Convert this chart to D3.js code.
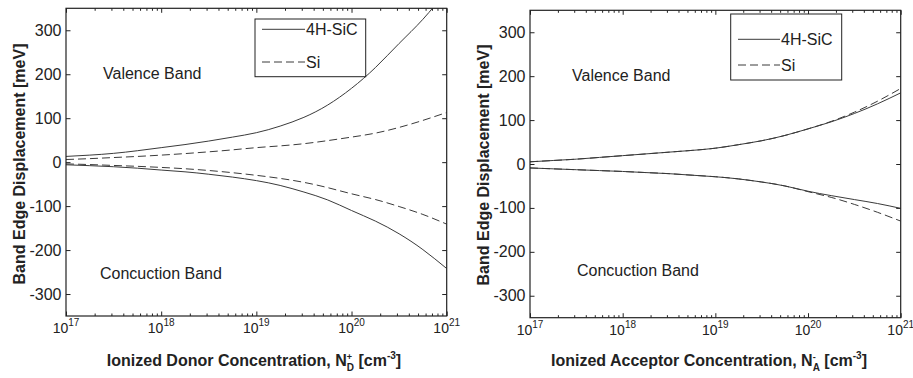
<!DOCTYPE html>
<html>
<head>
<meta charset="utf-8">
<script src="https://cdnjs.cloudflare.com/ajax/libs/d3/7.8.5/d3.min.js"></script>
<style>
  html, body { margin: 0; padding: 0; background: #fff; }
  svg { display: block; font-family: "Liberation Sans", Arial, sans-serif; }
  text { white-space: pre; }
</style>
</head>
<body>
<svg id="chart" width="913" height="378"></svg>
<script>
// Doping concentration, as powers of ten (cm^-3), sampled every quarter decade
const exponents = [17, 17.25, 17.5, 17.75, 18, 18.25, 18.5, 18.75, 19,
                   19.25, 19.5, 19.75, 20, 20.25, 20.5, 20.75, 21];

// n-type (donor) band edge displacement, meV
const donorSiCValence    = [13, 16, 20, 26, 33, 40, 48, 57, 67, 82, 102, 130, 168, 215, 270, 325, 390];
const donorSiValence     = [6, 8, 10.5, 13, 16, 19.5, 23.5, 28, 33, 37, 42, 49, 57, 66, 79, 95, 113];
const donorSiCConduction = [-6, -8, -10.4, -13.7, -18, -22, -27.5, -34, -42, -53, -68, -86, -110, -134, -163, -199, -242];
const donorSiConduction  = [-4, -5.5, -7.5, -9.5, -12, -15, -19, -24, -30, -37, -46, -58, -72, -85, -101, -119, -141];

// p-type (acceptor) band edge displacement, meV
const accSiCValence    = [5, 8, 11, 15, 19, 23, 27, 31, 36, 44, 53, 65, 80, 96, 115, 137, 162];
const accSiValence     = [5, 8, 11, 15, 19, 23, 27, 31, 36, 44, 53, 65, 80, 97, 118, 143, 172];
const accSiCConduction = [-9, -11, -13, -15, -17, -19.5, -22, -25.5, -29, -34, -41, -50, -62, -72, -81, -90, -101];
const accSiConduction  = [-9, -11, -13, -15, -17, -19.5, -22, -25.5, -29, -34, -41, -50, -63, -76, -92, -110, -130];

const yTicks = [-300, -200, -100, 0, 100, 200, 300];
const xMajorExp = [17, 18, 19, 20, 21];
const legendNames = ["4H-SiC", "Si"];

const svg = d3.select("#chart");
const INK = "#222";
const CURVE = "#3a3a3a";

// Lay out a run of text pieces (normal / subscript / superscript / stacked)
function richText(parent, x, y, parts, opts) {
  const t = parent.append("text").attr("y", y)
    .attr("font-size", opts.size).attr("font-weight", opts.weight || "normal")
    .attr("fill", INK);
  const measure = (str, size) => {
    const m = parent.append("text").attr("font-size", size)
      .attr("font-weight", opts.weight || "normal").text(str);
    const w = m.node().getComputedTextLength();
    m.remove();
    return w;
  };
  const placed = [];
  let cx = 0;
  parts.forEach(p => {
    const size = p.size || opts.size;
    const w = measure(p.t, size);
    if (p.stack) {
      const prev = placed[placed.length - 1];
      placed.push({ p, size, x: prev.x, w: 0 });
      prev.w = Math.max(prev.w, w);
    } else {
      placed.push({ p, size, x: cx, w });
    }
    cx = placed.reduce((a, q) => a + q.w, 0);
  });
  const x0 = opts.anchor === "middle" ? x - cx / 2 : x;
  placed.forEach(q => {
    t.append("tspan").attr("x", x0 + q.x).attr("y", y + (q.p.dy || 0))
      .attr("font-size", q.size).text(q.p.t);
  });
  return t;
}

function panel(cfg) {
  const x = d3.scaleLog().domain([1e17, 1e21]).range([cfg.left, cfg.right]);
  const y = d3.scaleLinear().domain([-350, 350]).range([cfg.bottom, cfg.top]);
  const g = svg.append("g");
  const clipId = "clip" + cfg.id;
  svg.append("clipPath").attr("id", clipId).append("rect")
    .attr("x", cfg.left).attr("y", cfg.top)
    .attr("width", cfg.right - cfg.left).attr("height", cfg.bottom - cfg.top);

  const allX = x.ticks();
  const minorX = allX.filter(v => !xMajorExp.some(e => Math.abs(Math.log10(v) - e) < 1e-9));
  const majorX = xMajorExp.map(e => Math.pow(10, e));

  // inward ticks on all four sides
  const axisLayer = g.append("g");
  const addAxis = (gen, tx, ty) => {
    const a = axisLayer.append("g").attr("transform", `translate(${tx},${ty})`).call(gen);
    a.select(".domain").remove();
    a.selectAll("text").remove();
    a.selectAll("line").attr("stroke", INK);
    return a;
  };
  addAxis(d3.axisBottom(x).tickValues(minorX).tickSizeInner(-2.5).tickSizeOuter(0), 0, cfg.bottom);
  addAxis(d3.axisBottom(x).tickValues(majorX).tickSizeInner(-4.5).tickSizeOuter(0), 0, cfg.bottom);
  addAxis(d3.axisTop(x).tickValues(minorX).tickSizeInner(-2.5).tickSizeOuter(0), 0, cfg.top);
  addAxis(d3.axisTop(x).tickValues(majorX).tickSizeInner(-4.5).tickSizeOuter(0), 0, cfg.top);
  addAxis(d3.axisLeft(y).tickValues(yTicks).tickSizeInner(-4.5).tickSizeOuter(0), cfg.left, 0);
  addAxis(d3.axisRight(y).tickValues(yTicks).tickSizeInner(-4.5).tickSizeOuter(0), cfg.right, 0);

  // y tick labels
  yTicks.forEach(v => {
    g.append("text").attr("x", cfg.left - 4.5).attr("y", y(v) + 5.5)
      .attr("text-anchor", "end").attr("font-size", 16).attr("fill", INK)
      .text(v);
  });
  // x tick labels: 10 with exponent
  xMajorExp.forEach(e => {
    richText(g, x(Math.pow(10, e)), cfg.bottom + 17,
      [{ t: "10" }, { t: String(e), size: 10, dy: -7 }],
      { size: 14, anchor: "middle" });
  });

  // curves, smoothed through the sampled points
  const line = d3.line()
    .x((d, i) => x(Math.pow(10, exponents[i])))
    .y(d => y(d))
    .curve(d3.curveNatural);
  const curves = g.append("g").attr("clip-path", `url(#${clipId})`);
  cfg.series.forEach(s => {
    curves.append("path").datum(s.values).attr("d", line)
      .attr("fill", "none").attr("stroke", CURVE).attr("stroke-width", 1)
      .attr("stroke-dasharray", s.dashed ? "8,4" : null);
  });

  // frame
  g.append("rect").attr("x", cfg.left).attr("y", cfg.top)
    .attr("width", cfg.right - cfg.left).attr("height", cfg.bottom - cfg.top)
    .attr("fill", "none").attr("stroke", INK).attr("stroke-width", 1.2);

  // band annotations
  g.append("text").attr("x", cfg.valence[0]).attr("y", cfg.valence[1])
    .attr("font-size", 16).attr("fill", INK).text("Valence Band");
  g.append("text").attr("x", cfg.conduction[0]).attr("y", cfg.conduction[1])
    .attr("font-size", 16).attr("fill", INK).text("Concuction Band");

  // legend
  const L = cfg.legend;
  g.append("rect").attr("x", L.x).attr("y", L.y).attr("width", L.w).attr("height", L.h)
    .attr("fill", "#fff").attr("stroke", INK).attr("stroke-width", 1);
  legendNames.forEach((name, i) => {
    const ry = L.rows[i];
    g.append("line").attr("x1", L.lineX[0]).attr("x2", L.lineX[1])
      .attr("y1", ry).attr("y2", ry).attr("stroke", CURVE).attr("stroke-width", 1)
      .attr("stroke-dasharray", i === 1 ? "8,4" : null);
    g.append("text").attr("x", L.lineX[1] + 1).attr("y", ry + 5.5)
      .attr("font-size", 16).attr("fill", INK).text(name);
  });

  // axis titles
  g.append("text")
    .attr("transform", `translate(${cfg.yTitleX},${cfg.yTitleY}) rotate(-90)`)
    .attr("text-anchor", "middle").attr("font-size", 16).attr("font-weight", "bold")
    .attr("fill", INK).text("Band Edge Displacement [meV]");
  richText(g, cfg.xTitleX, 366, cfg.xTitle,
    { size: 16, weight: "bold", anchor: "middle" });
}

panel({
  id: "donor", left: 66, right: 446.7, top: 8.3, bottom: 316,
  series: [
    { values: donorSiCValence, dashed: false },
    { values: donorSiCConduction, dashed: false },
    { values: donorSiValence, dashed: true },
    { values: donorSiConduction, dashed: true }
  ],
  valence: [103, 79], conduction: [100, 279],
  legend: { x: 255, y: 19, w: 110.7, h: 57.7, rows: [29.3, 62], lineX: [262, 305] },
  yTitleX: 25, yTitleY: 164, xTitleX: 254,
  xTitle: [
    { t: "Ionized Donor Concentration, N" },
    { t: "D", size: 10, dy: 5 },
    { t: "+", size: 9, dy: -6, stack: true },
    { t: " [cm" }, { t: "-3", size: 10, dy: -7 }, { t: "]" }
  ]
});

panel({
  id: "acceptor", left: 530, right: 900.7, top: 10.3, bottom: 317.7,
  series: [
    { values: accSiCValence, dashed: false },
    { values: accSiCConduction, dashed: false },
    { values: accSiValence, dashed: true },
    { values: accSiConduction, dashed: true }
  ],
  valence: [572, 81], conduction: [577, 276],
  legend: { x: 730.7, y: 14, w: 111, h: 66, rows: [39.3, 65], lineX: [738, 780] },
  yTitleX: 488.5, yTitleY: 165, xTitleX: 709,
  xTitle: [
    { t: "Ionized Acceptor Concentration, N" },
    { t: "A", size: 10, dy: 5 },
    { t: "-", size: 9, dy: -6, stack: true },
    { t: " [cm" }, { t: "-3", size: 10, dy: -7 }, { t: "]" }
  ]
});
</script>
</body>
</html>
